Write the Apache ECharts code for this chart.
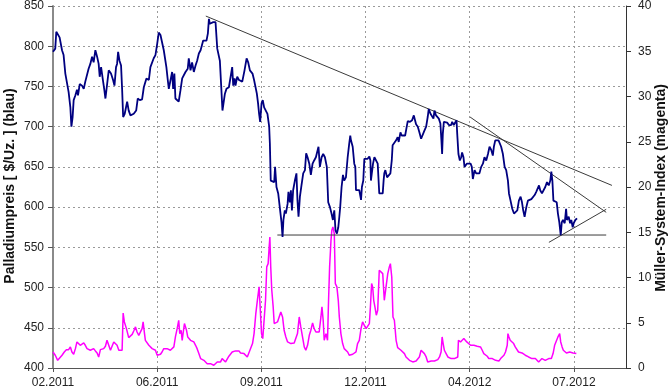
<!DOCTYPE html>
<html><head><meta charset="utf-8">
<script src="https://cdn.jsdelivr.net/npm/echarts@6/dist/echarts.min.js"></script>
<style>html,body{margin:0;padding:0;background:#fff}#c{width:670px;height:391px}</style>
</head><body><div id="c"></div>
<script>
// x positions are trading-day indices (60 per labelled interval)
const xLabels = ['02.2011','06.2011','09.2011','12.2011','04.2012','07.2012'];
const leftTicks = [400,450,500,550,600,650,700,750,800,850];
const rightTicks = [0,5,10,15,20,25,30,35,40];

const priceX = [0,1.3,1.9,2.7,3.8,5.2,6.1,7.1,9.0,10.0,10.6,11.3,11.9,12.9,13.8,14.4,15.4,16.7,17.7,18.6,19.6,20.5,21.5,22.5,23.4,24.4,25.4,26.3,26.9,27.7,28.6,29.6,30.2,31.1,32.1,33.4,34.6,35.4,36.3,36.9,37.5,38.3,39.2,39.8,40.4,41.3,42.7,43.6,44.6,45.6,46.5,47.9,48.8,50.0,51.3,52.3,53.8,55.2,56.1,
57.1,58.0,59.0,60.0,60.9,61.9,62.8,63.8,64.8,65.3,66.1,66.7,67.6,68.6,69.2,69.9,70.5,71.5,72.4,73.4,74.4,75.3,76.3,77.6,78.2,79.2,80.1,81.1,82.1,83.0,84.0,85.0,85.9,86.5,87.4,88.4,89.2,89.8,90.3,91.1,92.3,93.6,94.6,95.5,96.1,96.9,97.6,98.4,99.0,99.9,101.3,102.3,103.2,103.8,104.6,105.1,106.1,107.1,108.0,109.0,110.3,111.5,112.4,113.4,
113.9,114.9,115.8,116.8,117.4,118.1,118.7,119.3,120.1,120.8,121.6,122.6,123.5,124.5,124.9,125.4,126.4,127.4,127.9,128.7,129.7,130.6,131.6,132.2,132.7,133.5,134.1,135.1,135.6,136.4,137.0,137.6,138.3,139.3,140.2,140.8,141.4,142.2,143.1,144.1,145.1,145.8,146.6,147.6,148.5,149.5,150.4,151.4,152.4,152.9,153.7,154.7,155.6,156.6,157.7,158.5,159.5,160.4,161.2,162.0,162.7,163.5,164.3,164.9,165.4,166.2,167.0,167.7,168.7,169.7,170.6,171.2,
171.6,172.6,173.5,174.1,174.5,175.4,176.4,177.4,177.9,178.7,179.3,180.3,181.2,182.2,182.8,183.1,183.7,184.3,185.1,186.0,187.0,187.9,188.9,189.9,190.4,190.8,191.4,192.4,193.3,194.3,195.1,195.6,196.6,197.6,198.5,199.1,200.1,200.8,201.8,202.8,203.7,204.3,205.6,206.8,207.8,208.5,209.1,210.1,211.0,212.0,213.0,213.9,214.9,215.8,216.4,217.4,218.1,219.1,219.7,220.6,221.2,222.2,223.1,223.7,224.1,224.5,225.1,226.0,227.0,228.0,228.9,
229.3,229.9,230.8,231.6,232.4,232.8,233.5,234.3,235.1,235.6,236.4,237.0,237.6,238.3,239.3,240.5,241.2,241.8,242.8,243.7,244.7,245.6,246.6,247.6,248.5,249.5,250.5,251.4,252.4,253.3,253.9,254.7,255.6,256.6,257.2,258.1,259.1,260.1,261.0,262.0,262.6,263.5,264.5,265.5,266.4,267.4,268.3,269.3,270.1,270.8,271.6,272.6,273.5,274.5,275.5,276.4,277.4,278.3,279.3,279.9,280.6,281.6,282.6,283.5,284.5,285.5,286.4,
287.0,287.6,288.2,289.3,290.1,290.8,291.6,292.4,293.0,293.7,294.7,295.5,296.0,297.0,297.8,298.5,299.3,299.9,300.8,301.8];
const priceY = [793,797,818,819,811,795,789,766,743,724,700,712,733,739,746,739,753,751,747,756,756,772,778,787,780,795,787,778,762,774,760,745,735,734,770,766,758,751,774,778,793,782,776,747,712,716,731,720,714,712,716,720,735,733,734,749,760,758,774,
776,785,789,803,817,814,805,795,793,774,758,747,747,768,747,766,735,733,731,745,760,762,768,772,785,770,780,768,776,782,791,795,797,807,807,807,816,834,828,830,830,830,797,795,782,749,720,720,741,747,749,749,774,751,760,751,762,758,758,756,770,785,780,770,
772,766,758,756,741,729,716,706,729,733,724,726,716,700,679,633,631,631,650,625,617,600,581,563,584,596,592,604,619,606,621,596,621,633,642,608,588,613,627,642,646,667,662,654,640,654,658,662,661,675,650,662,666,662,650,606,600,592,584,596,571,567,575,588,600,625,640,633,637,662,679,689,
683,675,654,650,621,619,621,609,625,633,660,662,660,663,658,633,631,654,662,664,654,617,616,617,633,642,646,637,637,642,658,677,679,683,687,681,693,689,691,689,691,707,706,708,714,708,703,700,693,685,687,695,700,712,722,716,714,710,720,714,716,710,704,683,666,691,706,704,705,702,704,
702,706,702,704,708,691,666,658,662,668,662,650,648,654,654,654,650,635,646,642,640,642,650,654,662,658,666,675,671,664,675,683,681,683,684,675,666,650,646,633,617,608,598,592,594,596,608,613,606,596,588,600,608,606,610,608,615,619,617,627,621,617,619,625,631,627,633,
644,633,608,608,606,592,581,565,581,584,580,598,584,588,580,584,575,580,584,586];

const indexX = [0,1.3,2.7,3.8,5.2,6.5,7.7,9.0,10.0,10.9,11.9,12.9,13.8,14.8,15.7,16.7,17.7,18.6,19.6,20.5,21.5,22.5,23.4,24.4,25.4,26.3,27.3,28.3,29.2,30.2,31.1,32.1,33.1,34.0,35.0,35.9,36.9,37.9,38.8,39.8,40.4,41.1,42.3,43.6,44.6,45.6,46.5,47.5,48.4,49.4,50.4,51.3,51.9,52.7,53.2,54.2,55.2,
56.1,57.1,58.0,59.0,60.0,60.9,61.9,62.8,63.8,64.8,65.7,66.7,67.6,68.6,69.6,70.5,71.5,72.4,73.0,73.8,74.4,74.9,75.7,76.3,76.9,77.6,78.4,79.2,80.1,81.1,82.1,83.0,84.0,85.0,85.9,86.9,87.8,88.8,89.8,90.7,91.7,92.6,93.6,94.6,95.5,96.5,97.4,98.4,99.4,100.3,101.3,102.3,103.2,104.2,105.1,106.1,107.1,108.0,109.0,110.0,110.9,111.9,112.8,113.4,
113.9,114.9,115.8,116.8,117.7,118.7,119.3,120.1,120.8,121.6,122.4,123.1,123.9,124.5,124.9,125.4,126.0,126.8,127.4,128.3,129.3,130.2,131.2,132.2,133.1,134.1,135.1,136.0,137.0,137.9,138.9,139.9,140.8,141.8,142.7,143.7,144.7,145.6,146.6,147.6,148.5,149.5,150.4,151.4,152.4,153.3,154.3,154.9,155.6,156.2,157.2,158.1,158.7,159.3,160.1,160.6,161.2,162.0,162.6,163.5,164.3,164.9,165.8,166.8,167.7,168.7,169.7,170.6,
171.6,172.6,173.5,174.5,175.4,176.4,177.4,178.3,179.3,180.3,181.2,182.2,182.8,183.5,184.1,184.7,185.4,186.2,187.0,187.9,188.9,189.9,190.8,191.8,192.8,193.7,194.3,195.1,195.8,196.6,197.6,198.5,199.5,200.4,201.4,202.4,203.3,204.3,205.3,206.2,207.2,208.1,209.1,210.1,211.0,212.0,213.0,213.9,214.9,215.8,216.8,217.8,218.7,219.7,220.6,221.6,222.6,223.5,224.1,224.7,225.4,226.4,227.4,228.3,
229.3,230.3,231.2,232.2,233.1,233.5,234.7,235.6,236.6,237.6,238.3,239.3,240.5,241.4,242.4,243.3,244.3,245.3,246.2,247.2,248.1,249.1,250.1,251.0,252.0,253.0,253.9,254.9,255.8,256.8,257.8,258.7,259.7,260.6,261.6,262.0,262.6,263.3,264.3,265.3,266.2,267.2,268.1,269.1,270.1,271.0,272.0,273.0,273.9,274.9,275.8,276.8,277.8,278.7,279.7,280.6,281.6,282.6,283.5,284.5,285.5,286.4,
287.0,288.0,288.9,289.9,290.8,291.8,292.4,293.2,293.9,294.7,295.7,296.6,297.6,298.5,299.5,300.5,301.4];
const indexY = [1.77,1.41,0.85,1.04,1.41,1.77,2.03,2.03,2.33,1.77,1.52,2.14,2.88,2.70,2.51,2.62,2.77,2.51,2.14,1.96,1.96,1.89,2.14,1.89,1.66,1.22,2.03,1.96,2.14,2.40,3.06,2.51,1.96,2.14,2.88,3.06,2.51,1.96,1.89,1.96,6.08,5.09,4.35,3.36,3.50,3.72,4.09,4.54,3.98,3.61,3.50,4.35,5.09,3.80,3.06,2.88,2.51,
2.33,2.14,2.14,1.96,1.41,1.22,1.52,1.77,2.14,2.33,2.14,2.33,1.96,2.14,2.33,3.43,4.35,5.27,3.80,4.17,3.06,3.80,4.91,5.09,4.17,3.43,3.61,3.06,3.06,2.88,2.51,2.14,1.59,1.04,0.85,0.85,0.67,0.48,0.67,0.48,0.48,0.30,0.48,0.67,0.85,0.67,1.04,0.93,0.67,0.85,1.30,1.22,1.77,1.66,1.89,1.77,1.89,1.66,1.77,1.59,1.77,1.22,1.22,1.96,
1.77,2.70,3.80,6.01,7.48,8.96,6.75,3.80,3.25,3.43,7.48,11.17,11.53,13.38,14.48,11.17,8.59,6.75,4.91,4.91,5.09,5.27,6.19,5.64,4.17,3.43,2.88,2.70,2.70,2.70,2.77,2.70,3.80,5.64,4.54,3.43,2.33,1.96,2.51,3.61,4.17,4.98,4.35,3.98,4.17,3.98,5.64,6.75,5.27,3.06,3.80,3.06,7.48,11.17,14.11,15.22,15.59,14.85,9.33,8.96,7.48,5.64,3.80,2.70,2.14,1.96,1.77,1.41,
1.41,1.52,1.59,1.77,2.70,3.06,4.35,5.09,4.72,4.35,4.54,4.91,6.75,9.33,8.96,7.48,6.75,5.83,6.38,10.80,10.80,10.43,7.48,8.96,10.43,11.17,11.53,10.06,5.64,5.27,3.06,2.25,2.14,1.96,1.96,1.59,1.22,1.04,0.85,0.85,0.67,0.67,0.78,0.93,1.22,1.96,1.96,1.59,1.22,0.67,0.67,0.78,0.85,0.78,0.85,0.93,1.22,1.77,3.43,2.70,1.96,1.59,1.22,1.04,
1.04,1.04,1.04,1.04,1.22,3.06,2.88,2.99,3.25,3.36,2.88,2.70,2.51,2.40,2.51,2.33,2.40,2.51,2.33,1.96,1.59,1.41,1.30,1.04,0.85,1.04,1.15,0.85,0.78,0.78,1.04,1.22,1.41,1.77,2.51,3.80,3.43,3.06,2.88,2.70,2.33,2.14,1.77,1.96,1.66,1.59,1.41,1.41,1.22,1.15,1.04,1.15,1.04,0.93,0.67,0.78,1.04,0.93,0.85,0.93,1.04,1.22,
1.04,1.59,2.51,2.70,3.43,3.80,2.88,2.33,1.96,1.77,1.66,1.77,1.77,1.77,1.66,1.66,1.59];

// trend lines: [x, price] end points
const trendUpper = [[88,837.5],[321.9,627]];
const trendSteep = [[240.2,712],[318.6,593.5]];
const support = [[129.2,565.3],[318.6,565.3]];
const trendRising = [[285.6,556.2],[318.6,597.3]];

const zip = (xs, ys) => xs.map((x, i) => [x, ys[i]]);
const chart = echarts.init(document.getElementById('c'), null, {renderer: 'canvas'});
const gridLine = {show: true, lineStyle: {color: '#9a9a9a', type: [2, 3], width: 1}};
const font = '"Liberation Sans", Arial, sans-serif';
const trendStyle = {color: '#3a3a3a', width: 1};
const lineSeries = (data, extra) => Object.assign({type: 'line', data: data, showSymbol: false, symbol: 'none', silent: true, animation: false}, extra);

chart.setOption({
  animation: false,
  grid: {left: 53, right: 44, top: 6, bottom: 23, containLabel: false},
  xAxis: {
    type: 'value', min: 0, max: 330, interval: 60,
    axisLine: {show: true, onZero: false, lineStyle: {color: '#555', width: 1}},
    axisTick: {show: true, length: 4, lineStyle: {color: '#555'}},
    axisLabel: {color: '#222', fontSize: 12, fontFamily: font, margin: 9, showMaxLabel: false,
      formatter: v => (v % 60 === 0 && xLabels[v / 60]) || ''},
    splitLine: gridLine
  },
  yAxis: [{
    type: 'value', min: leftTicks[0], max: leftTicks[leftTicks.length - 1], interval: 50,
    axisLine: {show: true, lineStyle: {color: '#8a8a8a', width: 2}},
    axisTick: {show: true, length: 5, lineStyle: {color: '#555'}},
    axisLabel: {color: '#222', fontSize: 12, fontFamily: font, margin: 9},
    splitLine: gridLine
  }, {
    type: 'value', min: rightTicks[0], max: rightTicks[rightTicks.length - 1], interval: 5, position: 'right',
    axisLine: {show: true, lineStyle: {color: '#333', width: 1}},
    axisTick: {show: true, length: 5, lineStyle: {color: '#333'}},
    axisLabel: {color: '#222', fontSize: 12, fontFamily: font, margin: 12},
    splitLine: {show: false}
  }],
  graphic: [
    {type: 'text', x: 10, y: 186, rotation: Math.PI / 2,
      style: {text: 'Palladiumpreis [ $/Uz. ] (blau)', font: 'bold 14px ' + font, fill: '#111', textAlign: 'center', textVerticalAlign: 'middle'}},
    {type: 'text', x: 661, y: 188, rotation: Math.PI / 2,
      style: {text: 'Müller-System-Index (magenta)', font: 'bold 14px ' + font, fill: '#111', textAlign: 'center', textVerticalAlign: 'middle'}}
  ],
  series: [
    lineSeries(zip(indexX, indexY), {yAxisIndex: 1, lineStyle: {color: '#ff00ff', width: 1.5}, z: 2}),
    lineSeries(trendUpper, {yAxisIndex: 0, lineStyle: trendStyle, z: 3}),
    lineSeries(trendSteep, {yAxisIndex: 0, lineStyle: trendStyle, z: 3}),
    lineSeries(support, {yAxisIndex: 0, lineStyle: trendStyle, z: 3}),
    lineSeries(trendRising, {yAxisIndex: 0, lineStyle: trendStyle, z: 3}),
    lineSeries(zip(priceX, priceY), {yAxisIndex: 0, lineStyle: {color: '#000080', width: 1.8}, z: 4})
  ]
});
</script></body></html>
